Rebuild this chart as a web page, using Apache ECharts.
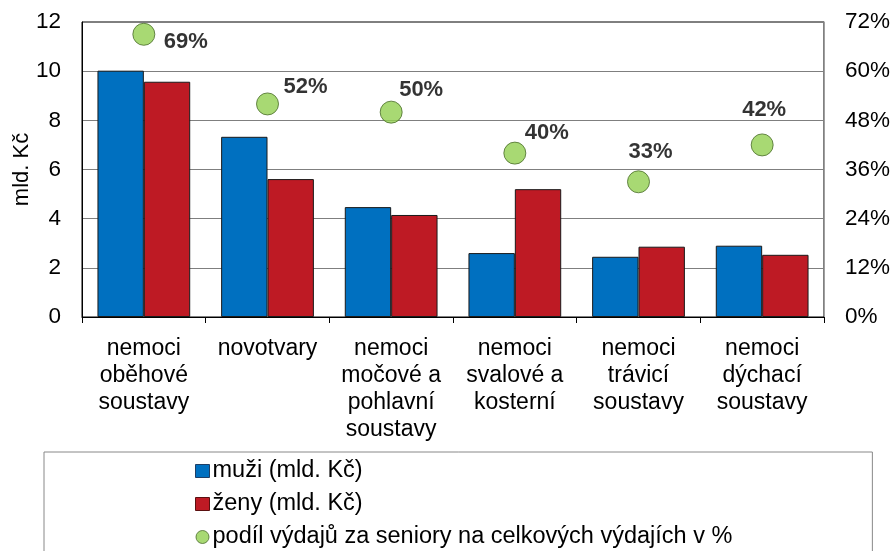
<!DOCTYPE html>
<html>
<head>
<meta charset="utf-8">
<script src="https://cdn.jsdelivr.net/npm/echarts@6/dist/echarts.min.js"></script>
<style>
  html, body { margin: 0; padding: 0; background: #fff; }
  #chart { width: 892px; height: 551px; }
</style>
</head>
<body>
<div id="chart"></div>
<script>
var categories = [
  "nemoci\noběhové\nsoustavy",
  "novotvary",
  "nemoci\nmočové a\npohlavní\nsoustavy",
  "nemoci\nsvalové a\nkosterní",
  "nemoci\ntrávicí\nsoustavy",
  "nemoci\ndýchací\nsoustavy"
];
var muzi = [10.02, 7.33, 4.47, 2.6, 2.45, 2.9];
var zeny = [9.57, 5.61, 4.15, 5.2, 2.86, 2.53];
var podil = [69, 52, 50, 40, 33, 42];
var leftTicks = [0, 2, 4, 6, 8, 10, 12];
var rightTicks = [0, 12, 24, 36, 48, 60, 72];

// kde je popisek bodu oproti bodu
var labelOffsets = [[42, 8], [38, -17], [30, -22], [32, -20], [12, -30], [2, -35]];

var chart = echarts.init(document.getElementById("chart"));

var fontFamily = "Liberation Sans, Arial, sans-serif";

chart.setOption({
  animation: false,
  textStyle: { fontFamily: fontFamily, color: "#000" },
  grid: {
    left: 82,
    right: 68,
    top: 22,
    bottom: 234,
    containLabel: false,
    outerBoundsMode: "none",
    show: true,
    borderColor: "#000",
    borderWidth: 1
  },
  legend: {
    orient: "vertical",
    left: 44,
    top: 452,
    height: 200,
    padding: [7, 140, 30, 151],
    borderColor: "#888",
    borderWidth: 1,
    itemWidth: 14,
    itemHeight: 13,
    itemGap: 9,
    textStyle: { fontSize: 23.5, color: "#000", padding: [0, 0, 0, -2] },
    data: [
      { name: "muži (mld. Kč)", icon: "rect", itemStyle: { borderColor: "#1f3f66", borderWidth: 1 } },
      { name: "ženy (mld. Kč)", icon: "rect", itemStyle: { borderColor: "#5a1010", borderWidth: 1 } },
      { name: "podíl výdajů za seniory na celkových výdajích v %", icon: "circle", itemStyle: { borderColor: "#4a6b2a", borderWidth: 1 } }
    ]
  },
  xAxis: {
    type: "category",
    data: categories,
    axisLine: { lineStyle: { color: "#000", width: 1 } },
    axisTick: { show: true, length: 6, lineStyle: { color: "#000" } },
    axisLabel: {
      fontSize: 23,
      color: "#000",
      lineHeight: 27,
      margin: 18,
      interval: 0
    }
  },
  yAxis: [
    {
      type: "value",
      min: leftTicks[0],
      max: leftTicks[leftTicks.length - 1],
      interval: 2,
      name: "mld. Kč",
      nameLocation: "middle",
      nameGap: 49,
      nameMoveOverlap: false,
      nameRotate: 90,
      nameTextStyle: { fontSize: 22, color: "#000" },
      axisLine: { show: true, lineStyle: { color: "#000" } },
      axisTick: { show: false },
      axisLabel: { fontSize: 22.5, color: "#000", margin: 21 },
      splitLine: { lineStyle: { color: "#7f7f7f", width: 1 } }
    },
    {
      type: "value",
      min: rightTicks[0],
      max: rightTicks[rightTicks.length - 1],
      interval: 12,
      position: "right",
      axisLine: { show: true, lineStyle: { color: "#a0a0a0" } },
      axisTick: { show: false },
      axisLabel: { fontSize: 22.5, color: "#000", margin: 21, formatter: "{value}%" },
      splitLine: { show: false }
    }
  ],
  series: [
    {
      name: "muži (mld. Kč)",
      type: "bar",
      data: muzi,
      barGap: "0%",
      barCategoryGap: "25%",
      itemStyle: { color: "#0070C0", borderColor: "#1a1a1a", borderWidth: 1 }
    },
    {
      name: "ženy (mld. Kč)",
      type: "bar",
      data: zeny,
      itemStyle: { color: "#BE1A24", borderColor: "#1a1a1a", borderWidth: 1 }
    },
    {
      name: "podíl výdajů za seniory na celkových výdajích v %",
      type: "scatter",
      yAxisIndex: 1,
      symbolSize: 22,
      itemStyle: { color: "#92D050", borderColor: "#4a6b2a", borderWidth: 1 },
      data: podil.map(function (v, i) {
        return {
          value: v,
          label: {
            show: true,
            position: "inside",
            offset: labelOffsets[i],
            formatter: v + "%",
            fontSize: 22,
            fontWeight: "bold",
            color: "#000"
          }
        };
      })
    }
  ]
});
</script>
</body>
</html>
